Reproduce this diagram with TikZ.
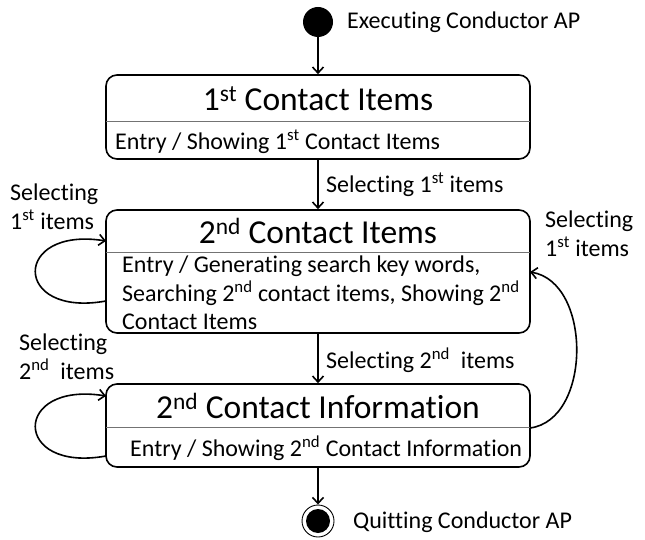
\documentclass[tikz,border=0pt]{standalone}
\usepackage{fontspec}
\setmainfont{Carlito}[Ligatures=NoCommon]
\usetikzlibrary{arrows.meta}
\begin{document}
\begin{tikzpicture}[x=1pt,y=-1pt,
  state/.style={draw, line width=1.6pt, rounded corners=11pt, minimum width=424pt, inner sep=0pt},
  divider/.style={draw=black!55, line width=0.9pt},
  ttl/.style={font=\fontsize{33.5}{36}\selectfont, inner sep=0pt},
  body/.style={font=\fontsize{24}{28.5}\selectfont, inner sep=0pt, anchor=west, align=left},
  lbl/.style={font=\fontsize{24}{28.5}\selectfont, inner sep=0pt, anchor=west, align=left},
  tr/.style={line width=1.6pt, -{Straight Barb[length=6pt,width=11pt,line width=1.6pt]}},
]
\useasboundingbox (0,0) rectangle (645,540);

% initial and final states
\node[circle, fill=black, minimum size=30pt, inner sep=0pt] (init) at (318,22) {};
\node[circle, draw, line width=0.9pt, minimum size=32pt, inner sep=0pt] (final) at (318,521) {};
\node[circle, fill=black, minimum size=24pt, inner sep=0pt] (finalin) at (318,521) {};

% state boxes
\node[state, minimum height=84pt] (b1) at (318,117) {};
\node[state, minimum height=123pt] (b2) at (318,271.5) {};
\node[state, minimum height=83pt] (b3) at (318,425.5) {};

\draw[divider] (106,121) -- (530,121);
\draw[divider] (106,252) -- (530,252);
\draw[divider] (106,427) -- (530,427);

% titles
\node[ttl] (t1) at (318,99) {1\textsuperscript{st} Contact Items};
\node[ttl] (t2) at (318,231) {2\textsuperscript{nd} Contact Items};
\node[ttl] (t3) at (318,406) {2\textsuperscript{nd} Contact Information};

% entry actions
\node[body] (e1) at (115,142) {Entry / Showing 1\textsuperscript{st} Contact Items};
\node[body] (e2) at (122,293) {Entry / Generating search key words,\\Searching 2\textsuperscript{nd} contact items, Showing 2\textsuperscript{nd}\\Contact Items};
\node[body] (e3) at (130,448) {Entry / Showing 2\textsuperscript{nd} Contact Information};

% labels
\node[lbl] (lexec) at (347,22) {Executing Conductor AP};
\node[lbl] (lquit) at (353,522) {Quitting Conductor AP};
\node[lbl] (l12) at (326,185) {Selecting 1\textsuperscript{st} items};
\node[lbl] (l23) at (326,360) {Selecting 2\textsuperscript{nd}\ \ items};
\node[lbl] (lloop2) at (10,207) {Selecting\\1\textsuperscript{st} items};
\node[lbl] (lloop3) at (19,357) {Selecting\\2\textsuperscript{nd}\ \ items};
\node[lbl] (lback) at (545,234) {Selecting\\1\textsuperscript{st} items};

% transitions
\draw[tr] (init) -- (b1);
\draw[tr] (b1) -- (b2);
\draw[tr] (b2) -- (b3);
\draw[tr] (b3) -- (final);

\coordinate (s2a) at (106,301);
\coordinate (s2b) at (106,241);
\coordinate (s3a) at (106,456);
\coordinate (s3b) at (106,396);
\coordinate (ra) at (530,428);
\coordinate (rb) at (530,272);
\draw[tr] (s2a) .. controls (12,318) and (12,226) .. (s2b);
\draw[tr] (s3a) .. controls (12,473) and (12,381) .. (s3b);
\draw[tr] (ra) .. controls (592,420) and (592,282) .. (rb);
\end{tikzpicture}
\end{document}
